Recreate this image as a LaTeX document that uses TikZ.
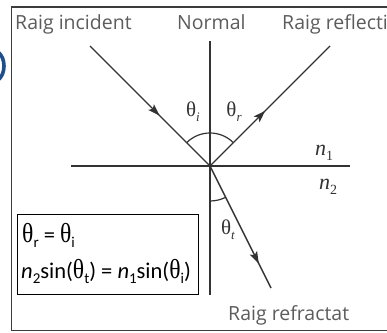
\documentclass[tikz,border=0pt]{standalone}
\usepackage{fontspec}
\setmainfont{Liberation Serif}
\newfontfamily\rslab{Open Sans}
\newfontfamily\rsform{Carlito}
\newfontfamily\rsser{Liberation Serif}
\usetikzlibrary{arrows.meta,decorations.markings,calc}
\definecolor{raycol}{HTML}{333333}
\definecolor{labgray}{HTML}{5C5C5C}
\definecolor{parblue}{HTML}{1F4E8C}
\definecolor{framecol}{HTML}{3C3C3C}
\newcommand\rssub[1]{\raisebox{-0.25em}{\fontsize{15}{15}\selectfont #1}}
\newcommand\rsth{{\rsser\scalebox{1.05}[1.22]{θ}}}
\tikzset{
  raystyle/.style={draw=raycol, line width=1.4pt},
  arrowmark/.style={postaction={decorate}, decoration={markings,
      mark=at position #1 with {\arrow{Stealth[length=12pt,width=8pt,inset=2.5pt]}}}},
  lab/.style={text=labgray, font=\rslab\fontsize{19.5}{20}\selectfont, inner sep=0pt},
  anglab/.style={text=raycol, font=\rsser\fontsize{21}{22}\selectfont, inner sep=0pt},
  form/.style={text=black, font=\rsform\fontsize{22.5}{24}\selectfont, inner sep=0pt},
}
\begin{document}
\begin{tikzpicture}[x=1pt,y=-1pt]
\useasboundingbox (0,0) rectangle (387,332);
\clip (0,0) rectangle (387,332);
\fill[white] (0,0) rectangle (387,332);
% blue parenthesis fragment
\draw[parblue, line width=3.6pt] (-2,52) .. controls (6,58) and (6,74) .. (-2,80);
% frame
\coordinate (f1) at (387,7);
\coordinate (f2) at (11.5,7);
\coordinate (f3) at (11.5,330.5);
\coordinate (f4) at (387,330.5);
\draw[framecol, line width=1.1pt] (f1) -- (f2) -- (f3) -- (f4);
% geometry
\coordinate (O) at (210,166);
\coordinate (ntop) at (210,41);
\coordinate (nbot) at (210,295);
\coordinate (hl) at (71,166);
\coordinate (hr) at (350,166);
\coordinate (inc) at (90,46);
\coordinate (refl) at (330,46);
\coordinate (refr) at (271,288);
\draw[raystyle] (ntop) -- (nbot);
\draw[raystyle] (hl) -- (hr);
\draw[raystyle, arrowmark=0.58] (inc) -- (O);
\draw[raystyle, arrowmark=0.46] (O) -- (refl);
\draw[raystyle, arrowmark=0.8] (O) -- (refr);
% angle arcs
\draw[raycol, line width=1.2pt] ($(O)+(225:33)$) arc[start angle=225, end angle=315, radius=33];
\draw[raycol, line width=1.2pt] ($(O)+(63.4:35)$) arc[start angle=63.4, end angle=90, radius=35];
% angle labels
\node[anglab] (thi) at (193,112) {θ\rssub{\fontsize{13}{13}\selectfont\itshape i}};
\node[anglab] (thr) at (234,112) {θ\rssub{\fontsize{13}{13}\selectfont\itshape r}};
\node[anglab] (tht) at (228,230) {θ\rssub{\fontsize{13}{13}\selectfont\itshape t}};
\node[anglab, font=\rsser\itshape\fontsize{22}{23}\selectfont] (n1) at (324,153) {n\rssub{\upshape\fontsize{14}{14}\selectfont 1}};
\node[anglab, font=\rsser\itshape\fontsize{22}{23}\selectfont] (n2) at (328,187) {n\rssub{\upshape\fontsize{14}{14}\selectfont 2}};
% text labels
\node[lab, anchor=base west] (tinc) at (15,29) {Raig incident};
\node[lab, anchor=base west] (tnorm) at (177,29) {Normal};
\node[lab, anchor=base west] (trefl) at (282,29) {Raig reflecti};
\node[lab, anchor=base west] (trefr) at (228,320) {Raig refractat};
% formula box
\node[draw=black, line width=1pt, minimum width=181pt, minimum height=80pt, anchor=north west, inner sep=0pt] (eqbox) at (17,214) {};
\node[form, anchor=base west] (eq1) at (22,242) {\rsth\rssub{r} = \rsth\rssub{i}};
\node[form, anchor=base west] (eq2) at (21,278) {\textit{n}\rssub{2}sin(\rsth\rssub{t}) = \textit{n}\rssub{1}sin(\rsth\rssub{i})};
\end{tikzpicture}
\end{document}
